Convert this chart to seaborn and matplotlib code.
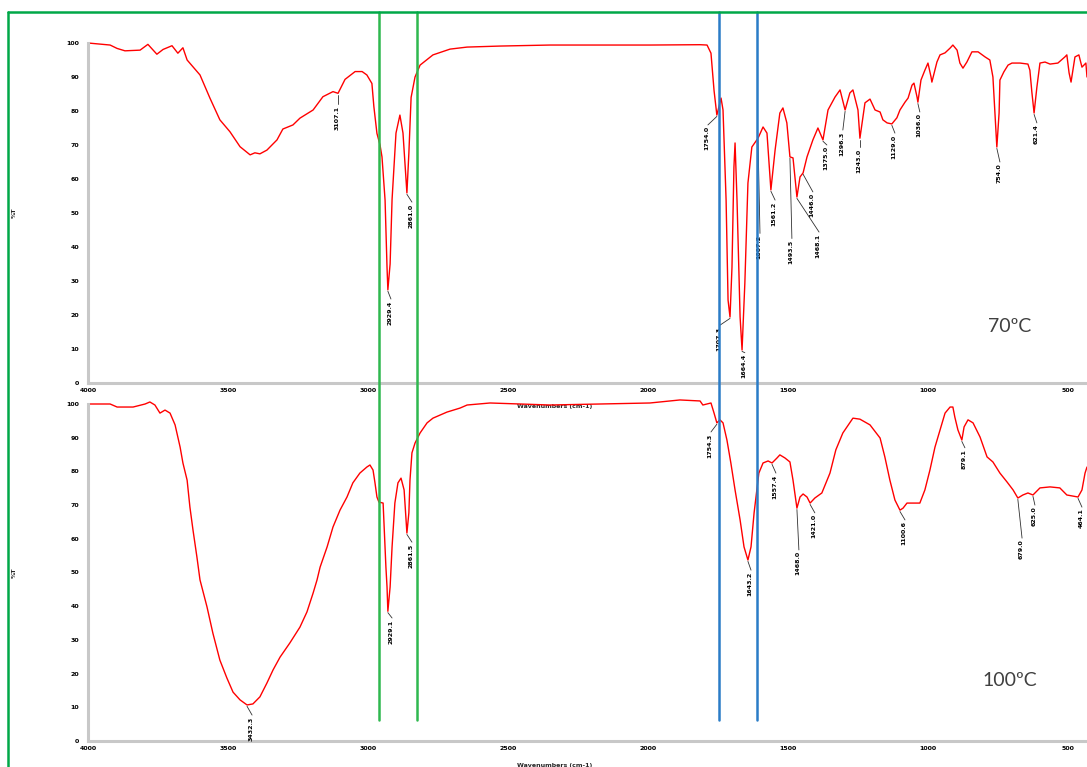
import matplotlib
matplotlib.use("Agg")
import matplotlib.pyplot as plt
import matplotlib.transforms as mtransforms
from matplotlib.lines import Line2D
from matplotlib.ticker import MultipleLocator
import seaborn as sns

# ---- spectrum at 70 C (wavenumber cm-1, %T) ----
wn_70 = [4000, 3921, 3896, 3868, 3814, 3786, 3754, 3732, 3700, 3679, 3661, 3646, 3625,
         3600, 3564, 3529, 3493, 3457, 3439, 3421, 3404, 3386, 3361, 3325, 3304, 3268,
         3243, 3196, 3161, 3125, 3107, 3082, 3046, 3021, 3004, 2986, 2979, 2968, 2957,
         2950, 2939, 2932, 2929, 2921, 2914, 2900, 2886, 2875, 2864, 2861, 2854, 2846,
         2832, 2814, 2768, 2707, 2646, 2529, 2350, 2171, 1993, 1814, 1789, 1775, 1764,
         1754, 1739, 1732, 1721, 1714, 1707, 1700, 1693, 1689, 1682, 1671, 1664, 1654,
         1643, 1629, 1607, 1589, 1575, 1561, 1546, 1529, 1518, 1504, 1493, 1482, 1468,
         1457, 1446, 1432, 1411, 1393, 1375, 1357, 1332, 1314, 1296, 1279, 1268, 1250,
         1243, 1225, 1207, 1189, 1171, 1161, 1146, 1129, 1111, 1100, 1082, 1071, 1057,
         1050, 1039, 1036, 1025, 1011, 1000, 989, 986, 968, 957, 939, 921, 911, 896,
         886, 875, 861, 843, 821, 796, 779, 768, 761, 754, 746, 743, 729, 714, 700,
         671, 643, 636, 629, 621, 611, 600, 582, 564, 536, 511, 504, 496, 489, 475,
         461, 450, 436, 432]
t_70 = [100.0, 99.4, 98.4, 97.7, 97.9, 99.6, 96.7, 98.1, 99.2, 97.0, 98.6, 95.0, 93.0,
        90.6, 83.7, 77.4, 73.9, 69.5, 68.3, 67.1, 67.7, 67.4, 68.5, 71.5, 74.7, 75.9,
        77.9, 80.3, 84.2, 85.7, 85.2, 89.3, 91.6, 91.6, 90.6, 88.1, 81.3, 73.4, 70.0,
        66.5, 53.8, 34.0, 27.4, 35.0, 54.0, 73.5, 78.8, 73.5, 59.7, 55.9, 67.6, 84.0,
        90.0, 93.5, 96.5, 98.2, 98.8, 99.1, 99.4, 99.4, 99.4, 99.5, 99.4, 97.0, 86.0,
        78.8, 83.8, 80.3, 53.8, 24.4, 19.4, 34.0, 63.5, 70.6, 53.8, 19.4, 9.7, 29.4,
        58.8, 69.4, 72.0, 75.3, 73.5, 56.8, 68.5, 79.4, 80.9, 76.5, 66.5, 66.2, 54.7,
        60.6, 61.8, 66.5, 71.5, 75.0, 71.5, 80.3, 84.1, 86.2, 80.3, 85.3, 86.2, 80.3,
        72.0, 82.4, 83.5, 80.3, 79.7, 77.4, 76.5, 76.2, 78.0, 80.3, 82.6, 83.8, 87.6,
        88.2, 84.1, 82.6, 89.1, 92.0, 94.1, 90.0, 88.5, 94.4, 96.5, 97.1, 98.5, 99.4, 97.9,
        94.1, 92.6, 94.4, 97.4, 97.4, 95.9, 95.0, 90.0, 79.4, 69.4, 79.4, 89.1, 91.5, 93.5, 94.1,
        94.1, 93.8, 92.0, 85.6, 79.4, 87.0, 94.1, 94.4, 93.8, 94.1, 95.9, 96.5, 91.2, 88.5, 95.9,
        96.5, 92.9, 94.1, 90.0]

# ---- spectrum at 100 C ----
wn_100 = [4000, 3921, 3896, 3839, 3796, 3779, 3761, 3743, 3725, 3707, 3689, 3671, 3661,
          3646, 3636, 3625, 3611, 3600, 3575, 3554, 3529, 3504, 3482, 3457, 3432, 3411,
          3386, 3361, 3339, 3314, 3279, 3243, 3218, 3196, 3182, 3171, 3146, 3125, 3100,
          3075, 3054, 3029, 3004, 2993, 2982, 2975, 2968, 2961, 2946, 2943, 2936, 2932,
          2929, 2921, 2914, 2904, 2893, 2882, 2871, 2864, 2861, 2854, 2850, 2843, 2832,
          2814, 2789, 2768, 2718, 2671, 2646, 2564, 2350, 2171, 1993, 1886, 1814, 1804,
          1775, 1764, 1754, 1743, 1732, 1718, 1704, 1689, 1671, 1657, 1643, 1632, 1621,
          1611, 1604, 1589, 1571, 1557, 1539, 1529, 1511, 1493, 1482, 1468, 1457, 1446,
          1432, 1421, 1404, 1379, 1350, 1329, 1304, 1268, 1243, 1207, 1171, 1154, 1136,
          1118, 1100, 1089, 1075, 1054, 1029, 1011, 993, 975, 957, 939, 921, 911, 904,
          893, 879, 871, 857, 839, 814, 789, 768, 743, 718, 696, 679, 661, 643, 625,
          600, 564, 529, 504, 464, 450, 439, 432]
t_100 = [100.0, 100.0, 99.1, 99.1, 100.0, 100.6, 99.7, 97.3, 98.2, 97.3, 93.8, 87.2, 82.5,
         77.4, 69.4, 62.6, 54.6, 47.8, 39.8, 32.0, 24.0, 18.7, 14.5, 12.2, 10.7, 11.0,
         13.1, 17.2, 21.1, 24.9, 29.1, 33.8, 38.3, 43.9, 47.8, 51.6, 57.6, 63.5, 68.5,
         72.4, 76.6, 79.5, 81.3, 81.9, 80.4, 76.6, 72.4, 70.9, 70.6, 64.7, 51.6, 45.7,
         38.5, 45.7, 57.6, 70.6, 76.6, 78.0, 74.5, 65.6, 61.7, 67.7, 77.4, 85.5, 88.4,
         91.4, 94.4, 95.8, 97.6, 98.8, 99.7, 100.3, 99.7, 100.0, 100.3, 101.2, 100.9, 99.7,
         100.3, 97.3, 94.4, 95.3, 94.4, 89.3, 82.5, 74.5, 65.6, 57.6, 53.7, 57.6, 67.7,
         74.5, 79.5, 82.5, 83.1, 82.5, 84.0, 84.9, 84.0, 82.8, 77.4, 69.1, 72.4, 73.3,
         72.4, 70.6, 72.1, 73.6, 79.5, 86.4, 91.4, 95.8, 95.5, 93.8, 89.9, 84.3, 77.4,
         71.5, 68.5, 69.1, 70.6, 70.6, 70.6, 74.5, 80.4, 87.2, 92.3, 97.3, 99.1, 99.1, 96.1,
         92.3, 89.3, 93.2, 95.3, 94.4, 90.2, 84.3, 82.8, 79.5, 76.9, 74.5, 72.1, 73.0, 73.6, 73.0,
         75.1, 75.4, 75.1, 73.0, 72.4, 74.5, 79.5, 81.3]

# ---- peak picks ----
peak70_wn = [3107, 2929, 2861, 1754, 1707, 1664, 1607, 1561, 1493, 1468, 1446, 1375,
             1296, 1243, 1129, 1036, 754, 621]
peak70_t = [85.2, 27.4, 55.9, 78.8, 19.4, 9.7, 72.0, 56.8, 66.5, 54.7, 61.8, 71.5,
            80.3, 72.0, 76.2, 82.6, 69.4, 79.4]
peak70_txt = ["3107.1", "2929.4", "2861.0", "1754.0", "1707.3", "1664.4", "1607.2",
              "1561.2", "1493.5", "1468.1", "1446.0", "1375.0", "1296.3", "1243.0",
              "1129.0", "1036.0", "754.0", "621.4"]
peak100_wn = [3432, 2929, 2861, 1754, 1643, 1557, 1468, 1421, 1100, 879, 679, 625, 464]
peak100_t = [10.7, 38.5, 61.7, 94.4, 53.7, 82.5, 69.1, 70.6, 68.5, 89.3, 72.1, 73.0, 72.4]
peak100_txt = ["3432.3", "2929.1", "2861.5", "1754.3", "1643.2", "1557.4", "1468.0",
               "1421.0", "1100.6", "879.1", "679.0", "625.0", "464.1"]

# layout: label offsets (dx in cm-1, drop in %T) for each pick
off70 = [(0, 3.2), (-11, 2.7), (-18, 2.7), (32, 2.9), (36, 2.4), (-10, 0.8), (-7, 28),
         (-15, 3), (-7, 24), (-79, 10.3), (-35, 5.6), (-14, 1.5), (8, 5.9), (0, 2.6),
         (-11, 2.7), (-7, 2.9), (-11, 4.4), (-10, 2.9)]
off100 = [(-18, 3), (-15, 2), (-18, 2.7), (21, 2.7), (-11, 3), (-14, 3), (-7, 12.4),
          (-17, 2.9), (-18, 2.9), (-11, 2.3), (-15, 11.9), (-7, 3), (-14, 3)]

xticks = [4000, 3500, 3000, 2500, 2000, 1500, 1000, 500]
yticks = [0, 10, 20, 30, 40, 50, 60, 70, 80, 90, 100]
green_lines = [2961, 2825]
blue_lines = [1746, 1611]

sns.set_style("white")
W, H = 1087, 767
fig = plt.figure(figsize=(W / 100, H / 100), dpi=100)

def px_axes(x0, y_top, x1, y_bot):
    return fig.add_axes([x0 / W, 1 - y_bot / H, (x1 - x0) / W, (y_bot - y_top) / H])

ax1 = px_axes(88, 43, 1087, 383)
ax2 = px_axes(88, 404, 1087, 741)

tick_font = dict(fontsize=4.5, fontweight="bold", color="black")

def style_axis(ax, ylabel_y):
    ax.set_xlim(4000, 432)
    ax.set_ylim(0, 100)
    for s in ["top", "right"]:
        ax.spines[s].set_visible(False)
    for s in ["left", "bottom"]:
        ax.spines[s].set_color("#c8c8c8")
        ax.spines[s].set_linewidth(2.2)
    ax.set_xticks(xticks)
    ax.set_xticklabels([str(v) for v in xticks], **tick_font)
    ax.set_yticks(yticks)
    ax.set_yticklabels([str(v) for v in yticks], **tick_font)
    ax.xaxis.set_minor_locator(MultipleLocator(100))
    ax.yaxis.set_minor_locator(MultipleLocator(2))
    ax.tick_params(which="major", direction="inout", length=3, width=0.9, color="black", pad=2)
    ax.tick_params(which="minor", direction="inout", length=1.5, width=0.8, color="black")
    ax.tick_params(axis="y", which="major", pad=5)
    ax.set_xlabel("Wavenumbers (cm-1)", fontsize=4.5, fontweight="bold")
    ax.set_ylabel("%T", fontsize=4.5, fontweight="bold")
    ax.xaxis.set_label_coords((555 - 88) / 999, ylabel_y)
    ax.yaxis.set_label_coords(-(88 - 17) / 999, 0.5)
    ax.grid(False)
    ax.patch.set_alpha(0)

def draw_spectrum(ax, wn, t, pwn, pt, ptxt, offs):
    sns.lineplot(x=wn, y=t, ax=ax, color="#ff0000", linewidth=1.0,
                 estimator=None, sort=False)
    for line in ax.get_lines():
        line.set_clip_on(False)
    for x, y, s, (dx, dy) in zip(pwn, pt, ptxt, offs):
        lx, ly = x + dx, y - dy
        ax.plot([x, lx], [y - 0.4, ly], color="#303030", linewidth=0.6)
        ax.text(lx + 4, ly - 0.4, s, rotation=90, ha="center", va="top",
                fontsize=4.5, fontweight="bold", color="black")

style_axis(ax1, -(404 - 383) / 340)
style_axis(ax2, -(763 - 741) / 337)
draw_spectrum(ax1, wn_70, t_70, peak70_wn, peak70_t, peak70_txt, off70)
draw_spectrum(ax2, wn_100, t_100, peak100_wn, peak100_t, peak100_txt, off100)

fig.text(1010 / W, 1 - 326 / H, "70ºC", fontsize=14, color="#404040",
         ha="center", va="center", family=["Lato", "DejaVu Sans"])
fig.text(1010 / W, 1 - 681 / H, "100ºC", fontsize=14, color="#404040",
         ha="center", va="center", family=["Lato", "DejaVu Sans"])

# marker lines over both panels
trans = mtransforms.blended_transform_factory(ax1.transData, fig.transFigure)
for x in green_lines:
    fig.add_artist(Line2D([x, x], [1 - 720 / H, 1 - 12 / H], transform=trans,
                          color="#2fb84f", linewidth=1.8))
for x in blue_lines:
    fig.add_artist(Line2D([x, x], [1 - 720 / H, 1 - 12 / H], transform=trans,
                          color="#2a7cc7", linewidth=1.8))

# green frame
fig.add_artist(Line2D([8 / W, 1.0], [1 - 12 / H, 1 - 12 / H], transform=fig.transFigure,
                      color="#00a848", linewidth=1.8))
fig.add_artist(Line2D([8 / W, 8 / W], [0, 1 - 12 / H], transform=fig.transFigure,
                      color="#00a848", linewidth=1.8))

fig.savefig("out.png", dpi=100)
